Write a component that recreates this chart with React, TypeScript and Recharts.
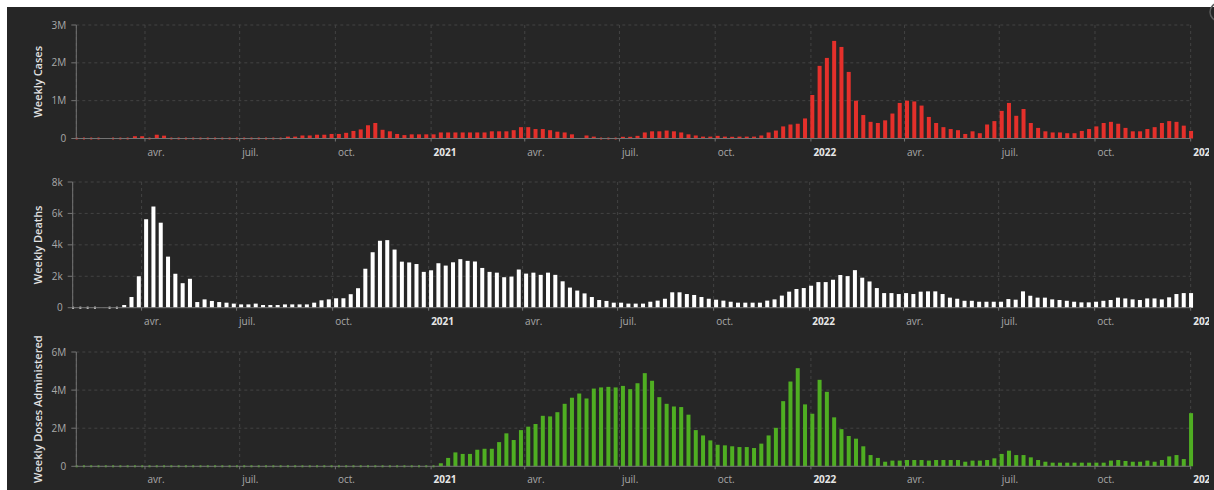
import React from 'react'
import { BarChart, Bar, XAxis, YAxis, CartesianGrid } from 'recharts'

// France — données hebdomadaires (semaines datées du dimanche)
const FIRST_WEEK = Date.UTC(2020, 0, 26)
const LAST_WEEK = Date.UTC(2023, 0, 1)
const WEEK_MS = 7 * 86400000

// cas hebdomadaires, en milliers
const casesK: (number | null)[] = [
  0, 0, 0, 0, null, 0, 0, 0, 60, 60,
  0, 100, 75, 0, 0, 0, 0, 0, 0, 0,
  0, 0, 0, 0, 0, 0, 0, 0, 0, 50,
  50, 80, 80, 100, 100, 120, 120, 150, 200, 240,
  350, 410, 230, 190, 120, 90, 110, 110, 110, 110,
  160, 160, 160, 160, 160, 160, 160, 190, 190, 190,
  220, 300, 300, 250, 250, 220, 180, 160, 110, null,
  80, 50, 35, 35, 35, 45, 45, 70, 160, 190,
  190, 210, 190, 160, 110, 80, 50, 50, 70, 50,
  45, 50, 50, 50, 80, 160, 210, 320, 370, 390,
  530, 1150, 1920, 2130, 2580, 2420, 1760, 1000, 620, 440,
  410, 480, 660, 940, 1000, 980, 870, 570, 410, 300,
  250, 220, 120, 190, 140, 370, 460, 730, 940, 600,
  780, 410, 280, 190, 160, 160, 140, 140, 200, 250,
  320, 410, 440, 390, 280, 190, 190, 250, 300, 410,
  460, 440, 340, 200,
]

// décès hebdomadaires
const deaths: (number | null)[] = [
  0, 0, 0, 0, null, 0, 0, 170, 680, 2000,
  5630, 6440, 5410, 3250, 2160, 1560, 1840, 360, 530, 430,
  360, 320, 260, 210, 210, 260, 170, 170, 170, 210,
  210, 210, 210, 320, 470, 530, 600, 600, 860, 1240,
  2480, 3530, 4260, 4300, 3700, 2930, 2880, 2780, 2280, 2380,
  2830, 2680, 2890, 3090, 2980, 2940, 2530, 2280, 2230, 1940,
  1980, 2430, 2170, 2230, 2090, 2230, 2090, 1680, 1280, 1090,
  910, 680, 490, 430, 320, 320, 260, 260, 260, 380,
  450, 570, 980, 980, 870, 810, 680, 570, 510, 450,
  380, 320, 320, 320, 320, 450, 530, 770, 1020, 1190,
  1250, 1400, 1630, 1630, 1780, 2080, 2010, 2390, 1910, 1670,
  1250, 930, 930, 870, 930, 870, 1020, 1040, 1040, 870,
  640, 570, 440, 440, 380, 380, 380, 380, 550, 510,
  1040, 760, 640, 640, 530, 490, 440, 380, 340, 340,
  380, 440, 490, 640, 590, 530, 490, 590, 590, 530,
  660, 870, 930, 930,
]

// doses administrées par semaine, en milliers
const dosesK: (number | null)[] = [
  0, 0, 0, 0, 0, 0, 0, 0, 0, 0,
  0, 0, 0, 0, 0, 0, 0, 0, 0, 0,
  0, 0, 0, 0, 0, 0, 0, 0, 0, 0,
  0, 0, 0, 0, 0, 0, 0, 0, 0, 0,
  0, 0, 0, 0, 0, 0, 0, 0, 0, 0,
  160, 440, 730, 650, 650, 870, 920, 920, 1270, 1730,
  1380, 1900, 2080, 2220, 2650, 2620, 2840, 3280, 3600, 3820,
  3560, 4080, 4140, 4170, 4140, 4220, 4050, 4360, 4890, 4490,
  3630, 3280, 3140, 3110, 2710, 1900, 1620, 1360, 1130, 1100,
  1050, 1010, 1010, 960, 1190, 1620, 2020, 3420, 4450, 5150,
  3250, 2760, 4540, 3910, 2570, 1950, 1590, 1450, 1050, 590,
  440, 240, 300, 300, 330, 330, 330, 300, 330, 330,
  330, 330, 240, 300, 300, 330, 420, 650, 820, 590,
  590, 470, 330, 240, 190, 190, 190, 190, 190, 190,
  190, 190, 300, 330, 280, 240, 240, 300, 240, 330,
  520, 590, 380, 2790,
]

const xTicks = [
  Date.UTC(2020, 3, 1), Date.UTC(2020, 6, 1), Date.UTC(2020, 9, 1),
  Date.UTC(2021, 0, 1), Date.UTC(2021, 3, 1), Date.UTC(2021, 6, 1), Date.UTC(2021, 9, 1),
  Date.UTC(2022, 0, 1), Date.UTC(2022, 3, 1), Date.UTC(2022, 6, 1), Date.UTC(2022, 9, 1),
  Date.UTC(2023, 0, 1),
]
const xTickLabels = ['avr.', 'juil.', 'oct.', '2021', 'avr.', 'juil.', 'oct.', '2022', 'avr.', 'juil.', 'oct.', '2023']

const BG = '#262626'
const GRID = '#434343'
const AXIS = '#747474'
const TICK = '#a9a9a9'
const PAGE_W = 1214
// le graphique d'origine est rogné un peu avant le bord de la page
const CHART_W = 1209
const PLOT_RIGHT = 1190.7

const toRows = (values: (number | null)[]) =>
  values.map((v, i) => ({ t: FIRST_WEEK + i * WEEK_MS, v }))

const fmtM = (v: number) => (v === 0 ? '0' : `${v / 1000}M`)
const fmtK = (v: number) => (v === 0 ? '0' : `${v / 1000}k`)

function QuarterTick(p: any) {
  const label = xTickLabels[xTicks.indexOf(p.payload.value)] ?? ''
  const isYear = /^\d{4}$/.test(label)
  return (
    <text
      x={p.x + 2.5}
      y={p.y + 12}
      fontSize={10}
      fontWeight={isYear ? 700 : 400}
      fill={isYear ? '#e6e6e6' : TICK}
    >
      {label}
    </text>
  )
}

function barShape(color: string) {
  return (p: any) => {
    const v = p.payload ? p.payload.v : null
    if (v == null) return <g />
    const h = p.height || 0
    if (h < 1.5) {
      const cx = p.x + p.width / 2
      return <rect x={cx - 1} y={p.y + h - 1} width={2} height={2} fill={color} />
    }
    return <rect x={p.x} y={p.y} width={p.width} height={h} fill={color} />
  }
}

interface PanelProps {
  values: (number | null)[]
  color: string
  title: string
  top: number
  height: number
  plotTop: number
  plotBottom: number
  plotLeft: number
  marginLeft: number
  yMax: number
  yTicks: number[]
  yFormat: (v: number) => string
}

function Panel({ values, color, title, top, height, plotTop, plotBottom, plotLeft, marginLeft, yMax, yTicks, yFormat }: PanelProps) {
  const data = toRows(values)
  return (
    <div style={{ position: 'absolute', left: 0, top, width: CHART_W, height, overflow: 'hidden' }}>
      <BarChart
        width={CHART_W}
        height={height}
        data={data}
        margin={{ top: plotTop, right: CHART_W - PLOT_RIGHT, bottom: height - plotBottom - 20, left: marginLeft }}
      >
        <CartesianGrid stroke={GRID} strokeDasharray="3 3" />
        <XAxis
          dataKey="t"
          type="number"
          scale="linear"
          domain={[FIRST_WEEK, LAST_WEEK]}
          ticks={xTicks}
          interval={0}
          height={20}
          tickSize={3}
          axisLine={{ stroke: AXIS }}
          tickLine={{ stroke: AXIS }}
          tick={(p: any) => <QuarterTick {...p} />}
        />
        <YAxis
          type="number"
          domain={[0, yMax]}
          ticks={yTicks}
          interval={0}
          width={plotLeft - marginLeft}
          tickFormatter={yFormat}
          tick={{ fill: TICK, fontSize: 10 }}
          tickSize={5}
          tickMargin={5}
          axisLine={{ stroke: AXIS }}
          tickLine={{ stroke: AXIS }}
          label={{ value: title, angle: -90, position: 'center', fill: '#e2e2e2', fontSize: 11, fontWeight: 600 }}
        />
        <Bar dataKey="v" fill={color} barSize={4} isAnimationActive={false} shape={barShape(color)} />
      </BarChart>
    </div>
  )
}

export default function App() {
  return (
    <div style={{ position: 'absolute', left: 0, top: 0, width: PAGE_W, height: 490, background: '#fff', overflow: 'hidden', fontFamily: "'Open Sans', sans-serif" }}>
      <div style={{ position: 'absolute', left: 7, top: 7, right: 0, bottom: 0, background: BG }} />
      <svg style={{ position: 'absolute', left: 0, top: 0 }} width={PAGE_W} height={40}>
        <circle cx={1219} cy={12} r={9} fill="none" stroke="#5c5c5c" strokeWidth={1.5} />
      </svg>
      <Panel
        values={casesK}
        color="#e4302b"
        title="Weekly Cases"
        top={0}
        height={167}
        plotTop={25}
        plotBottom={138.5}
        plotLeft={76.3}
        marginLeft={0}
        yMax={3000}
        yTicks={[0, 1000, 2000, 3000]}
        yFormat={fmtM}
      />
      <Panel
        values={deaths}
        color="#ffffff"
        title="Weekly Deaths"
        top={167}
        height={165}
        plotTop={15}
        plotBottom={140.7}
        plotLeft={72.7}
        marginLeft={3}
        yMax={8000}
        yTicks={[0, 2000, 4000, 6000, 8000]}
        yFormat={fmtK}
      />
      <Panel
        values={dosesK}
        color="#4fae22"
        title="Weekly Doses Administered"
        top={332}
        height={158}
        plotTop={20}
        plotBottom={134.3}
        plotLeft={76.3}
        marginLeft={0}
        yMax={6000}
        yTicks={[0, 2000, 4000, 6000]}
        yFormat={fmtM}
      />
    </div>
  )
}
